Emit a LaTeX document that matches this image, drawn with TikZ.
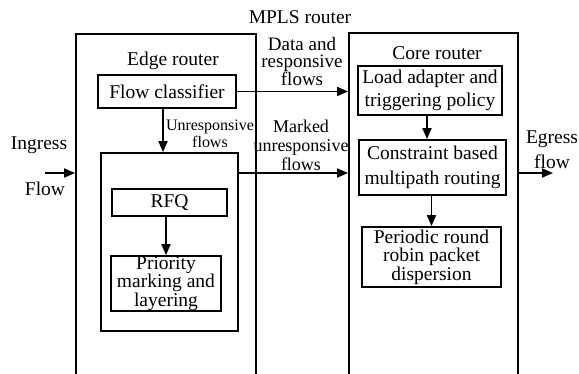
\documentclass[tikz,border=0pt]{standalone}
\usepackage{fontspec}
\setmainfont{Liberation Serif}
\usetikzlibrary{arrows.meta}
\begin{document}
\begin{tikzpicture}[x=1pt,y=-1pt,
  every node/.style={font=\fontsize{19.5}{23}\selectfont, inner sep=0pt, align=center},
  box/.style={draw, line width=1.8pt, rectangle},
  outer/.style={draw, line width=1.9pt, rectangle},
  arr/.style={line width=1.8pt, -{Triangle[length=11pt,width=9pt]}},
  lab/.style={font=\fontsize{19}{17.5}\selectfont},
  smalllab/.style={font=\fontsize{16}{17}\selectfont}]
\useasboundingbox (0,0) rectangle (579,373);
% outer boxes
\node[outer, minimum width=180, minimum height=370] (edge) at (166,219) {};
\node[outer, minimum width=169, minimum height=370] (core) at (433.5,218) {};
% titles
\node (mpls) at (300,17) {MPLS router};
\node (edgelab) at (173,61) {Edge router};
\node (corelab) at (437,53) {Core router};
% edge router contents
\node[box, minimum width=138, minimum height=33] (fc) at (167,91.5) {Flow classifier};
\node[box, minimum width=137, minimum height=178] (inner) at (169.5,242) {};
\node[box, minimum width=115, minimum height=27] (rfq) at (169.5,202.5) {RFQ};
\node[box, minimum width=110, minimum height=55, font=\fontsize{19.5}{15}\selectfont] (prio) at (166,283.5) {Priority\\marking and\\layering};
% core router contents
\node[box, minimum width=144, minimum height=49, font=\fontsize{19.5}{23}\selectfont] (load) at (430,90.5) {Load adapter and\\triggering policy};
\node[box, minimum width=147, minimum height=55, font=\fontsize{19.5}{25}\selectfont] (cons) at (432.5,167.5) {Constraint based\\multipath routing};
\node[box, minimum width=139, minimum height=60, font=\fontsize{19.5}{18.5}\selectfont] (peri) at (431.5,257) {Periodic round\\robin packet\\dispersion};
% labels
\node[lab] (dlab) at (302,61) {Data and\\responsive\\flows};
\node[font=\fontsize{18}{19}\selectfont] (mlab) at (301,145) {Marked\\unresponsive\\flows};
\node[smalllab] (ulab) at (210,134) {Unresponsive\\flows};
\node (ingress) at (39,145) {Ingress};
\node (flowin) at (45,189) {Flow};
\node[font=\fontsize{19.5}{25}\selectfont] (egress) at (552,150) {Egress\\flow};
% coordinates
\coordinate (ly) at (0,173);
\coordinate (inflow) at (45,173);
\coordinate (outflow) at (553,173);
% connectors
\draw[arr] (inflow) -- (inflow -| edge.west);
\draw[arr] (fc.east) -- (fc.east -| core.west);
\draw[arr] ([xshift=-4pt]fc.south) -- ([xshift=-4pt]fc.south |- inner.north);
\draw[arr] (inner.east |- ly) -- (core.west |- ly);
\draw[arr] (prio.north |- rfq.south) -- (prio.north);
\draw[arr] ([xshift=-3pt]load.south) -- ([xshift=-3pt]load.south |- cons.north);
\draw[arr] (cons.south -| peri.north) -- (peri.north);
\draw[arr] (core.east |- ly) -- (outflow);
\end{tikzpicture}
\end{document}
